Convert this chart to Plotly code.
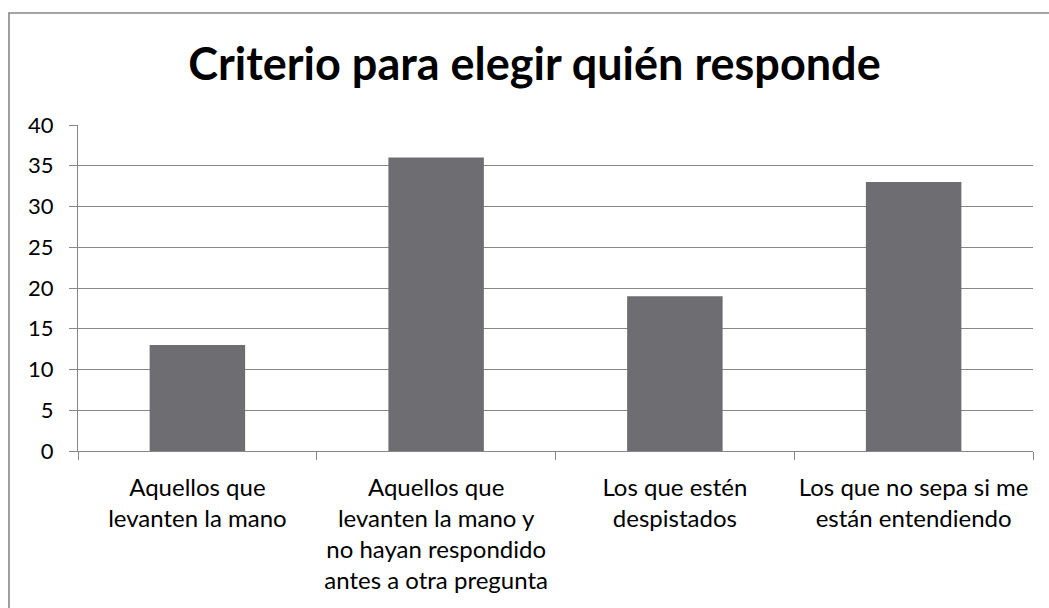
import plotly.graph_objects as go

categories = [
    "Aquellos que<br>levanten la mano",
    "Aquellos que<br>levanten la mano y<br>no hayan respondido<br>antes a otra pregunta",
    "Los que estén<br>despistados",
    "Los que no sepa si me<br>están entendiendo",
]
values = [13, 36, 19, 33]
y_ticks = [0, 5, 10, 15, 20, 25, 30, 35, 40]
title_text = "Criterio para elegir quién responde"

W, H = 1049, 608
L, R, T, B = 78, 1033, 125, 451
pw, ph = R - L, B - T

grid = "#878787"
bar_color = "#6e6d72"
font_family = "Lato, 'Open Sans', sans-serif"

fig = go.Figure(
    go.Bar(
        x=categories,
        y=values,
        marker=dict(color=bar_color, line=dict(width=0)),
        width=0.4,
    )
)

fig.update_layout(
    width=W,
    height=H,
    margin=dict(l=L, r=W - R, t=T, b=H - B, pad=0),
    paper_bgcolor="white",
    plot_bgcolor="white",
    showlegend=False,
    bargap=0.6,
    font=dict(family=font_family, color="black"),
    title=dict(
        text="<b>" + title_text + "</b>",
        font=dict(family=font_family, size=45, color="black"),
        x=(534.5 - L) / pw,
        xref="paper",
        xanchor="center",
        y=1 - 64 / H,
        yref="container",
        yanchor="middle",
    ),
    shapes=[
        dict(
            type="rect",
            xref="paper",
            yref="paper",
            x0=(9 - L) / pw,
            x1=(1080 - L) / pw,
            y0=-(640 - B) / ph,
            y1=1 + (T - 13) / ph,
            line=dict(color=grid, width=1.6),
            fillcolor="rgba(0,0,0,0)",
            layer="below",
        )
    ],
)

fig.update_xaxes(
    type="category",
    tickson="boundaries",
    ticks="outside",
    ticklen=8,
    tickwidth=1,
    tickcolor=grid,
    showline=True,
    linecolor=grid,
    linewidth=1,
    showgrid=False,
    tickfont=dict(family=font_family, size=24, color="black"),
    ticklabelstandoff=15,
)

fig.update_yaxes(
    range=[0, 40],
    tickvals=y_ticks,
    ticks="outside",
    ticklen=8,
    tickwidth=1,
    tickcolor=grid,
    showline=True,
    linecolor=grid,
    linewidth=1,
    showgrid=True,
    gridcolor=grid,
    gridwidth=1,
    zeroline=False,
    tickfont=dict(family=font_family, size=22, color="black"),
    ticklabelstandoff=11,
)

fig.write_html("out.html")
